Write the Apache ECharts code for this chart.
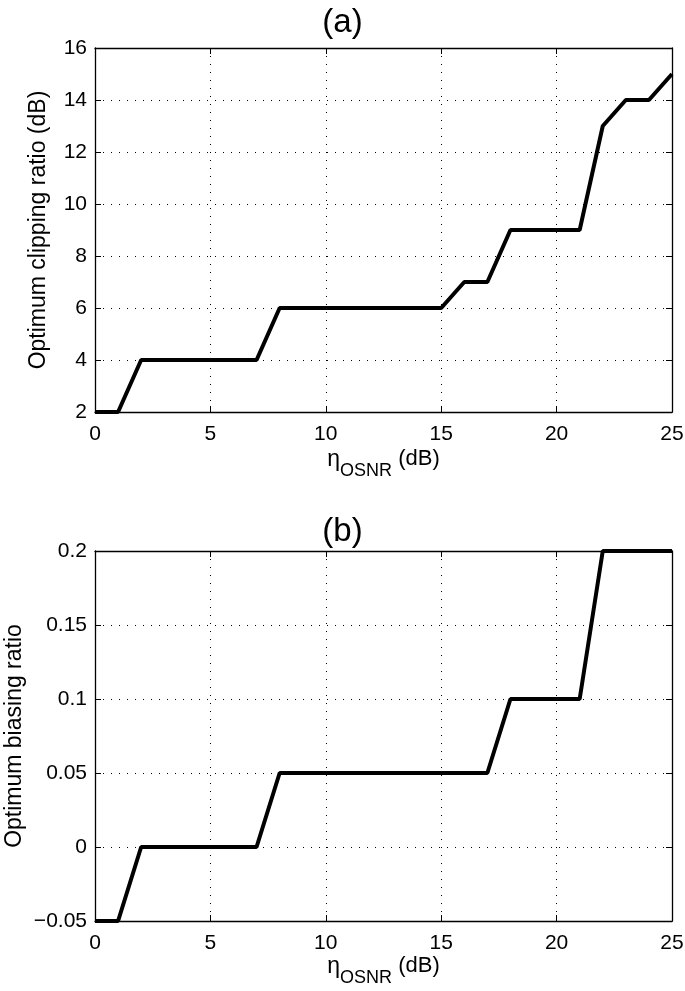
<!DOCTYPE html>
<html><head><meta charset="utf-8">
<script src="https://cdn.jsdelivr.net/npm/echarts@6/dist/echarts.min.js"></script>
<style>html,body{margin:0;padding:0;background:#fff}#c{width:685px;height:991px}</style>
</head><body><div id="c"></div>
<script>
const osnr = [0,1,2,3,4,5,6,7,8,9,10,11,12,13,14,15,16,17,18,19,20,21,22,23,24,25];
const clipping = [2,2,4,4,4,4,4,4,6,6,6,6,6,6,6,6,7,7,9,9,9,9,13,14,14,15];
const biasing = [-0.05,-0.05,0,0,0,0,0,0,0.05,0.05,0.05,0.05,0.05,0.05,0.05,0.05,0.05,0.05,0.1,0.1,0.1,0.1,0.2,0.2,0.2,0.2];
const xTicks = [0,5,10,15,20,25];
const titles = ['(a)','(b)'];
const yNames = ['Optimum clipping ratio (dB)','Optimum biasing ratio'];

const FONT = 'Liberation Sans, Arial, Helvetica, sans-serif';
const grids = [
  {left:95, right:13, top:48, height:364, containLabel:false, outerBoundsMode:'none'},
  {left:95, right:13, top:551, height:370, containLabel:false, outerBoundsMode:'none'}
];
function fmt(v){
  const r = Math.round(v*100)/100;
  if (r < 0) return '\u2212' + String(-r);
  return String(r);
}
const dotted = {show:true, lineStyle:{color:'#000', type:[1,7], width:1}};
const xName = '{e|\u03b7}{s|OSNR}{d| (dB)}';
const xNameRich = {
  e:{fontSize:23, fontFamily:FONT, color:'#000', verticalAlign:'top', lineHeight:32},
  s:{fontSize:18, fontFamily:FONT, color:'#000', verticalAlign:'bottom', lineHeight:32, padding:[12,0,0,0]},
  d:{fontSize:22, fontFamily:FONT, color:'#000', verticalAlign:'top', lineHeight:32}
};
const xAxes = [], yAxes = [], series = [];
[0,1].forEach(i=>{
  xAxes.push({type:'value', gridIndex:i, min:xTicks[0], max:xTicks[xTicks.length-1], interval:xTicks[1]-xTicks[0], position:'bottom',
    name:xName, nameLocation:'middle', nameGap: i===0?36:32,
    nameTextStyle:{rich:xNameRich},
    axisLine:{show:true, onZero:false, lineStyle:{color:'#000', width:1.3}},
    axisTick:{show:true, inside:true, length:6, lineStyle:{color:'#000'}},
    axisLabel:{fontSize:21, fontFamily:FONT, color:'#000', margin:12, formatter:fmt},
    splitLine:dotted});
  xAxes.push({type:'value', gridIndex:i, min:0, max:25, interval:5, position:'top',
    axisLine:{show:true, onZero:false, lineStyle:{color:'#000', width:1.3}},
    axisTick:{show:true, inside:true, length:6, lineStyle:{color:'#000'}},
    axisLabel:{show:false}, splitLine:{show:false}});
  const yr = i===0 ? {min:2,max:16,interval:2} : {min:-0.05,max:0.2,interval:0.05};
  yAxes.push(Object.assign({type:'value', gridIndex:i, position:'left',
    name:yNames[i], nameLocation:'middle', nameGap: i===0?45:69, nameMoveOverlap:false,
    nameTextStyle:{fontSize:23, fontFamily:FONT, color:'#000'},
    axisLine:{show:true, onZero:false, lineStyle:{color:'#000', width:1.3}},
    axisTick:{show:true, inside:true, length:6, lineStyle:{color:'#000'}},
    axisLabel:{fontSize:21, fontFamily:FONT, color:'#000', margin:8, formatter:fmt},
    splitLine:dotted}, yr));
  yAxes.push(Object.assign({type:'value', gridIndex:i, position:'right',
    axisLine:{show:true, onZero:false, lineStyle:{color:'#000', width:1.3}},
    axisTick:{show:true, inside:true, length:6, lineStyle:{color:'#000'}},
    axisLabel:{show:false}, splitLine:{show:false}}, yr));
  const vals = i===0 ? clipping : biasing;
  series.push({type:'line', xAxisIndex:i*2, yAxisIndex:i*2, symbol:'none',
    data: osnr.map((x,k)=>[x, vals[k]]),
    lineStyle:{color:'#000', width:4}, clip:false, animation:false});
});
const chart = echarts.init(document.getElementById('c'), null, {renderer:'canvas'});
chart.setOption({
  animation:false,
  backgroundColor:'#fff',
  title: [
    {text:titles[0], left:'center', top:1, textStyle:{fontSize:33, fontWeight:'normal', fontFamily:FONT, color:'#000'}},
    {text:titles[1], left:'center', top:510, textStyle:{fontSize:33, fontWeight:'normal', fontFamily:FONT, color:'#000'}}
  ],
  grid: grids,
  xAxis: xAxes,
  yAxis: yAxes,
  series: series
});
</script></body></html>
